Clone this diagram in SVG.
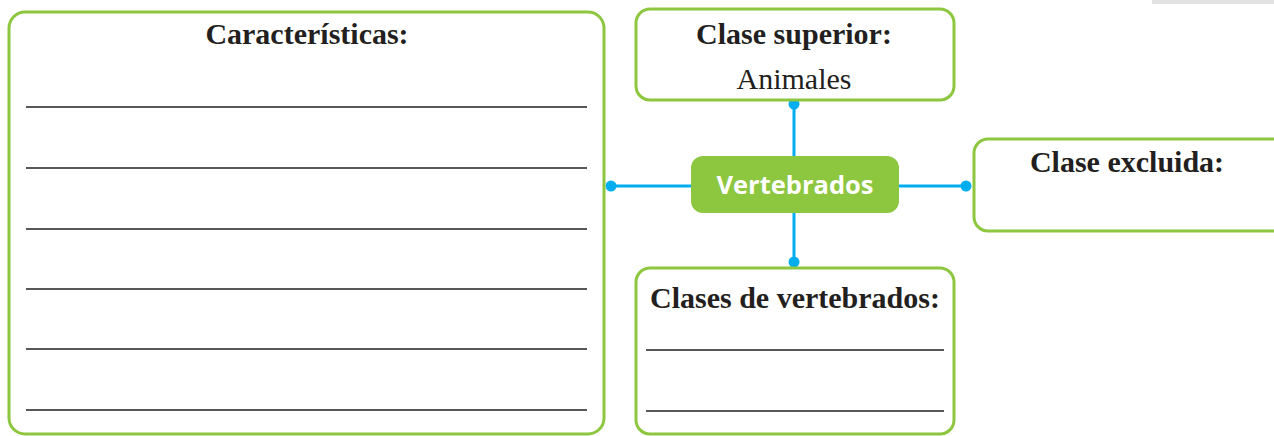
<svg xmlns="http://www.w3.org/2000/svg" width="1274" height="436" viewBox="0 0 1274 436">
<style>
.box{fill:#fff;stroke:#8dc63f;stroke-width:3}
.ttl{font-family:"Liberation Serif",serif;font-weight:bold;font-size:30px;fill:#231f20;text-anchor:middle}
.txt{font-family:"Liberation Serif",serif;font-size:30px;fill:#231f20;text-anchor:middle}
.rule{stroke:#231f20;stroke-width:1.5}
.con{stroke:#00aeef;stroke-width:3;fill:none}
.dot{fill:#00aeef}
</style>
<rect x="1152" y="0" width="122" height="4" fill="#e2e2e2"/>
<g id="connectors">
<line class="con" x1="794" y1="104" x2="794" y2="262"/>
<line class="con" x1="611" y1="186" x2="966" y2="186"/>
<circle class="dot" cx="794" cy="104" r="5.5"/>
<circle class="dot" cx="794" cy="262" r="5.5"/>
<circle class="dot" cx="611" cy="186" r="5.5"/>
<circle class="dot" cx="966" cy="186" r="5.5"/>
</g>
<g id="caracteristicas">
<rect class="box" x="9" y="12" width="595" height="422" rx="16"/>
<text class="ttl" x="307" y="44">Características:</text>
<line class="rule" x1="26" y1="107" x2="587" y2="107"/>
<line class="rule" x1="26" y1="168" x2="587" y2="168"/>
<line class="rule" x1="26" y1="229" x2="587" y2="229"/>
<line class="rule" x1="26" y1="289" x2="587" y2="289"/>
<line class="rule" x1="26" y1="349" x2="587" y2="349"/>
<line class="rule" x1="26" y1="410" x2="587" y2="410"/>
</g>
<g id="clase-superior">
<rect class="box" x="636" y="9" width="318" height="91" rx="14"/>
<text class="ttl" x="794" y="44">Clase superior:</text>
<text class="txt" x="794" y="89">Animales</text>
</g>
<g id="vertebrados">
<rect x="691" y="156" width="208" height="57" rx="12" fill="#8dc63f"/>
<text x="795" y="194" font-family="Open Sans, sans-serif" font-weight="bold" font-size="25.5" fill="#fff" text-anchor="middle">Vertebrados</text>
</g>
<g id="clase-excluida">
<rect class="box" x="974" y="139" width="320" height="92" rx="14"/>
<text class="ttl" x="1127" y="172">Clase excluida:</text>
</g>
<g id="clases-de-vertebrados">
<rect class="box" x="636" y="268" width="318" height="166" rx="14"/>
<text class="ttl" x="795" y="308">Clases de vertebrados:</text>
<line class="rule" x1="646" y1="350" x2="944" y2="350"/>
<line class="rule" x1="646" y1="411" x2="944" y2="411"/>
</g>
</svg>
